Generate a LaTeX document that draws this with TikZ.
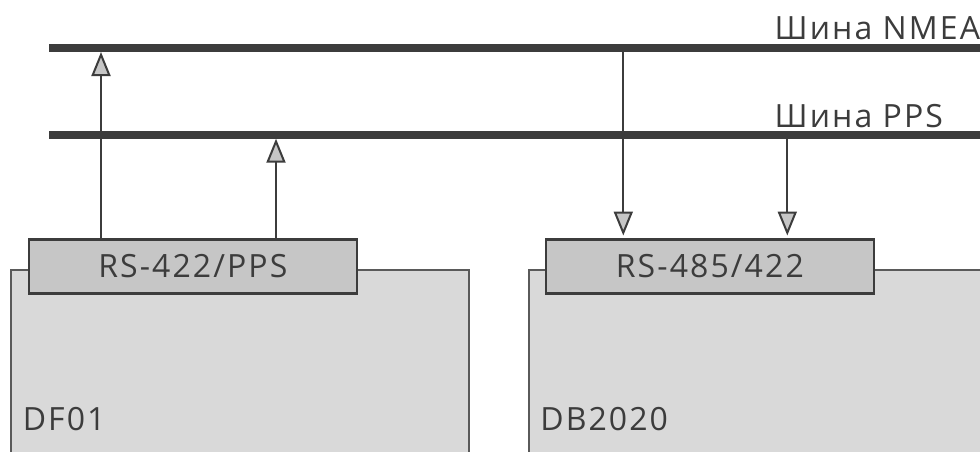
\documentclass[tikz,border=0pt]{standalone}
\usepackage{fontspec}
\setmainfont[LetterSpace=6.5]{Open Sans}
\usetikzlibrary{arrows.meta}
\definecolor{ink}{HTML}{3C3C3C}
\definecolor{devfill}{HTML}{D9D9D9}
\definecolor{devline}{HTML}{5A5A5A}
\definecolor{portfill}{HTML}{C6C6C6}
\begin{document}
\begin{tikzpicture}[x=1pt,y=-1pt,
  bus/.style={line width=8pt, draw=ink},
  device/.style={draw=devline, fill=devfill, line width=1.8pt, rectangle, inner sep=0, anchor=north west},
  port/.style={draw=ink, fill=portfill, line width=2.2pt, rectangle, inner sep=0,
    minimum width=327.5pt, minimum height=54pt, anchor=north west,
    text=ink, font=\fontsize{32}{38}\selectfont, text height=22.8pt, text depth=0pt},
  sig/.style={draw=ink, line width=2pt, -{Triangle[length=24pt,width=19pt,fill=portfill]}},
  lbl/.style={text=ink, font=\fontsize{32}{38}\selectfont, inner sep=0, anchor=base west}]
\clip (0,0) rectangle (980,451);
\fill[white] (0,0) rectangle (980,451);

% buses
\coordinate (nmeaL) at (49,48);
\coordinate (nmeaR) at (990,48);
\coordinate (ppsL) at (49,134.7);
\coordinate (ppsR) at (990,134.7);
\draw[bus] (nmeaL) -- (nmeaR);
\draw[bus] (ppsL) -- (ppsR);
\node[lbl] (tnmea) at (774.5,39) {Шина NMEA};
\node[lbl] (tpps) at (774.5,127.7) {Шина PPS};

% devices
\node[device, minimum width=458.3pt, minimum height=220pt] (df) at (10,269.3) {};
\node[device, minimum width=480pt, minimum height=220pt] (db) at (527.7,269.3) {};
\node[lbl] (dflbl) at (22.6,430) {DF01};
\node[lbl] (dblbl) at (540.2,430) {DB2020};

% ports
\node[port] (p1) at (28,238.3) {RS-422/PPS};
\node[port] (p2) at (545,238.3) {RS-485/422};

% signal endpoints
\coordinate (a1) at (101,52);
\coordinate (a2) at (276,138.7);
\coordinate (b1) at (623.3,48);
\coordinate (b2) at (787.3,134.7);
\coordinate (c1) at (623.3,235.5);
\coordinate (c2) at (787.3,235.5);

\draw[sig] (p1.north -| a1) -- (a1);
\draw[sig] (p1.north -| a2) -- (a2);
\draw[sig] (b1) -- (c1);
\draw[sig] (b2) -- (c2);
\end{tikzpicture}
\end{document}
